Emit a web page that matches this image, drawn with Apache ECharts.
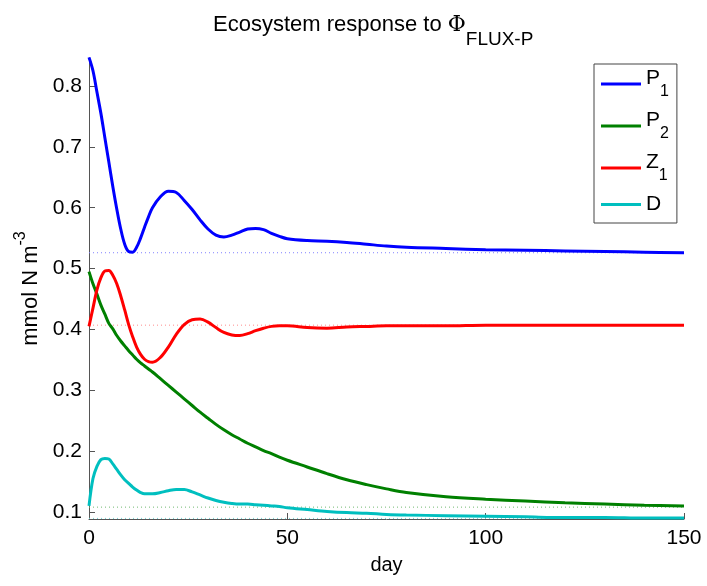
<!DOCTYPE html>
<html>
<head>
<meta charset="utf-8">
<script src="https://cdn.jsdelivr.net/npm/echarts@6/dist/echarts.min.js"></script>
<style>
html,body{margin:0;padding:0;background:#fff;}
#chart{width:707px;height:586px;}
</style>
</head>
<body>
<div id="chart"></div>
<script>
const days = [0,1,2,3,4,5,6,7,8,9,10,11,12,13,14,15,16,18,20,22,24,26,28,30,32,34,36,38,40,42,44,46,48,50,55,60,65,70,75,80,90,100,110,120,130,140,150];

const P1 = [0.847,0.825,0.790,0.755,0.715,0.675,0.635,0.598,0.565,0.540,0.528,0.527,0.535,0.550,0.568,0.585,0.600,0.618,0.627,0.625,0.612,0.597,0.580,0.565,0.555,0.552,0.555,0.560,0.565,0.566,0.564,0.558,0.553,0.549,0.546,0.545,0.543,0.540,0.537,0.535,0.533,0.531,0.530,0.529,0.528,0.527,0.526];

const P2 = [0.495,0.475,0.458,0.440,0.425,0.410,0.401,0.390,0.381,0.373,0.365,0.358,0.351,0.345,0.340,0.335,0.330,0.319,0.308,0.297,0.286,0.275,0.264,0.254,0.244,0.235,0.227,0.220,0.213,0.207,0.201,0.196,0.190,0.185,0.174,0.163,0.153,0.145,0.138,0.132,0.125,0.121,0.118,0.115,0.113,0.111,0.110];

const Z1 = [0.405,0.435,0.465,0.485,0.496,0.497,0.489,0.475,0.455,0.432,0.408,0.388,0.371,0.359,0.351,0.347,0.346,0.354,0.371,0.392,0.408,0.416,0.417,0.412,0.403,0.395,0.391,0.390,0.393,0.398,0.402,0.405,0.406,0.406,0.403,0.402,0.404,0.405,0.406,0.406,0.406,0.407,0.407,0.407,0.407,0.407,0.407];

const D = [0.110,0.155,0.175,0.186,0.188,0.187,0.179,0.170,0.161,0.153,0.147,0.141,0.136,0.132,0.130,0.130,0.130,0.132,0.135,0.137,0.137,0.133,0.128,0.123,0.119,0.116,0.114,0.113,0.113,0.112,0.111,0.110,0.109,0.107,0.104,0.101,0.099,0.098,0.096,0.095,0.094,0.093,0.092,0.091,0.091,0.090,0.090];

const seriesNames = ['P1','P2','Z1','D'];
const seriesColors = ['#0000ff','#008000','#ff0000','#00bfbf'];
const refLineColors = ['#8080ff','#70b870','#ff8c8c','#70d0d0'];
const equilibria = [0.526,0.108,0.407,0.0895];
const xRange = [0,150];
const yTicks = [0.1,0.2,0.3,0.4,0.5,0.6,0.7,0.8];

const allValues = [P1,P2,Z1,D];

const chart = echarts.init(document.getElementById('chart'), null, {renderer:'canvas'});
const FONT = 'Liberation Sans';

const legendLabel = {
  P1: '{m|P}{s|1}', P2: '{m|P}{s|2}', Z1: '{m|Z}{s|1}', D: '{d|D}'
};

const eqSeries = seriesNames.map((name, i) => ({
  name: name + '_eq',
  type: 'line',
  data: xRange.map(x => [x, equilibria[i]]),
  showSymbol: false,
  symbol: 'none',
  silent: true,
  lineStyle: {color: refLineColors[i], width: 1, type: [1, 3]},
  emphasis: {disabled: true},
  z: 1
}));

const mainSeries = seriesNames.map((name, i) => ({
  name: name,
  type: 'line',
  data: days.map((d, k) => [d, allValues[i][k]]),
  smooth: 0.35,
  showSymbol: false,
  symbol: 'none',
  color: seriesColors[i],
  lineStyle: {color: seriesColors[i], width: 3},
  emphasis: {disabled: true},
  z: 3
}));

const option = {
  animation: false,
  backgroundColor: '#ffffff',
  title: {
    text: '{a|Ecosystem response to }{p|Φ}{s|FLUX-P}',
    left: 208,
    top: 9,
    textStyle: {
      fontWeight: 'normal',
      rich: {
        a: {fontFamily: FONT, fontSize: 22, fontWeight: 'normal', color: '#000', verticalAlign: 'bottom', padding:[0,0,13,0]},
        p: {fontFamily: 'DejaVu Serif', fontSize: 22, fontWeight: 'normal', color: '#000', verticalAlign: 'bottom', padding:[0,0,13,0]},
        s: {fontFamily: FONT, fontSize: 19, fontWeight: 'normal', color: '#000', verticalAlign: 'bottom'}
      }
    }
  },
  legend: {
    orient: 'vertical',
    left: 594,
    top: 64,
    padding: [4, 8, 8, 7],
    itemGap: 10,
    itemWidth: 40,
    itemHeight: 3,
    icon: 'rect',
    borderColor: '#444',
    borderWidth: 1,
    data: seriesNames,
    formatter: n => legendLabel[n],
    textStyle: {
      rich: {
        m: {fontFamily: FONT, fontSize: 21, color: '#000', verticalAlign: 'bottom', padding:[0,0,11,0]},
        s: {fontFamily: FONT, fontSize: 16, color: '#000', verticalAlign: 'bottom'},
        d: {fontFamily: FONT, fontSize: 21, color: '#000'}
      }
    }
  },
  grid: {left: 89, right: 23, top: 58, bottom: 67, containLabel: false},
  xAxis: {
    type: 'value',
    min: xRange[0], max: xRange[1], interval: 50,
    name: 'day',
    nameLocation: 'middle',
    nameGap: 36,
    nameTextStyle: {fontFamily: FONT, fontSize: 20, color: '#000'},
    axisLine: {show: true, lineStyle: {color: '#555', width: 1}},
    axisTick: {show: true, inside: true, length: 6, lineStyle: {color: '#555'}},
    axisLabel: {fontFamily: FONT, fontSize: 21, color: '#000', margin: 9},
    splitLine: {show: false}
  },
  yAxis: {
    type: 'value',
    min: 0.0885, max: 0.846,
    name: '{a|mmol N m}{s|-3}',
    nameLocation: 'middle',
    nameRotate: 90,
    nameGap: 44,
    nameTextStyle: {
      rich: {
        a: {fontFamily: FONT, fontSize: 22, color: '#000', verticalAlign: 'bottom'},
        s: {fontFamily: FONT, fontSize: 16, color: '#000', verticalAlign: 'bottom', padding: [0,0,13,0]}
      }
    },
    axisLine: {show: true, lineStyle: {color: '#555', width: 1}},
    axisTick: {show: true, inside: true, length: 6, customValues: yTicks, lineStyle: {color: '#555'}},
    axisLabel: {fontFamily: FONT, fontSize: 21, color: '#000', margin: 7, customValues: yTicks, formatter: v => v.toFixed(1)},
    splitLine: {show: false}
  },
  series: eqSeries.concat(mainSeries)
};

chart.setOption(option);
</script>
</body>
</html>
